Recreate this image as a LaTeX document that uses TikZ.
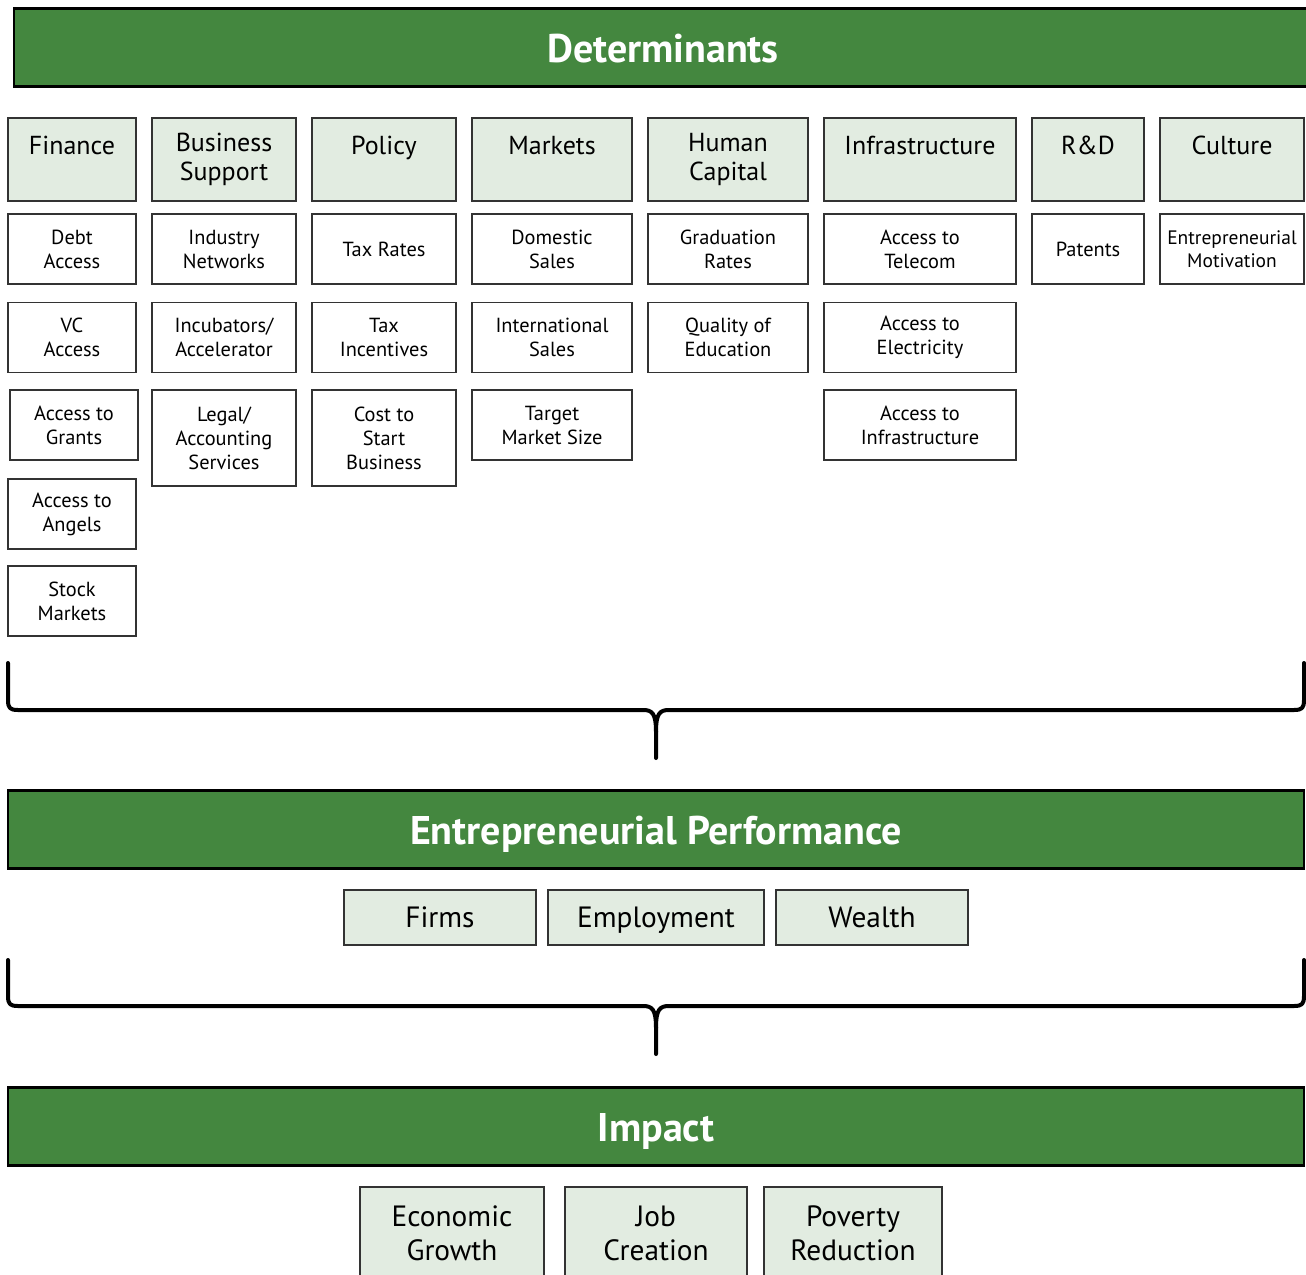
\documentclass[tikz,border=0pt]{standalone}
\usepackage{fontspec}
\setmainfont{PT Sans}
\usepackage{xcolor}
\definecolor{barGreen}{HTML}{44873F}
\definecolor{paleGreen}{HTML}{E2ECE1}
\definecolor{boxLine}{HTML}{333333}

\begin{document}
\begin{tikzpicture}[x=0.75pt,y=-0.75pt,
    bar node/.style={rectangle,draw=black,line width=2.2pt,fill=barGreen,text=white,minimum height=59pt,text height=22pt,text depth=0pt,font=\fontsize{30}{34}\selectfont\bfseries},
    head node/.style={rectangle,draw=boxLine,line width=0.9pt,fill=paleGreen,align=center,minimum height=62.25pt,font=\fontsize{19.5}{21.75}\selectfont},
    item node/.style={rectangle,draw=boxLine,line width=0.9pt,fill=white,align=center,minimum height=52.5pt,font=\fontsize{15.3}{18}\selectfont},
    tall node/.style={item node,minimum height=72pt},
    out node/.style={rectangle,draw=boxLine,line width=0.9pt,fill=paleGreen,align=center,minimum height=41.25pt,font=\fontsize{22}{25.5}\selectfont},
    perf node/.style={out node,text height=20.4pt,text depth=5pt},
    brace/.style={line width=3pt,line cap=round,line join=round}]

    \useasboundingbox (0,0) rectangle (1306,1274);

    % determinants
    \node[bar node, minimum width=973.5pt] (det) at (663,47.5) {Determinants};

    \node[head node, minimum width=96pt]  (fin) at (72,159.5)   {Finance\\~};
    \node[head node, minimum width=108pt] (bus) at (224,159.5)  {Business\\Support};
    \node[head node, minimum width=108pt] (pol) at (384,159.5)  {Policy\\~};
    \node[head node, minimum width=120pt] (mar) at (552,159.5)  {Markets\\~};
    \node[head node, minimum width=120pt] (hum) at (728,159.5)  {Human\\Capital};
    \node[head node, minimum width=144pt] (inf) at (920,159.5)  {Infrastructure\\~};
    \node[head node, minimum width=84pt]  (rnd) at (1088,159.5) {R\&D\\~};
    \node[head node, minimum width=108pt] (cul) at (1232,159.5) {Culture\\~};

    \node[item node, minimum width=96pt]  (fin1) at (72,249)   {Debt\\Access};
    \node[item node, minimum width=108pt] (bus1) at (224,249)  {Industry\\Networks};
    \node[item node, minimum width=108pt] (pol1) at (384,249)  {Tax Rates};
    \node[item node, minimum width=120pt] (mar1) at (552,249)  {Domestic\\Sales};
    \node[item node, minimum width=120pt] (hum1) at (728,249)  {Graduation\\Rates};
    \node[item node, minimum width=144pt] (inf1) at (920,249)  {Access to\\Telecom};
    \node[item node, minimum width=84pt]  (rnd1) at (1088,249) {Patents};
    \node[item node, minimum width=108pt, font=\fontsize{14.6}{17}\selectfont] (cul1) at (1232,249) {Entrepreneurial\\Motivation};

    \node[item node, minimum width=96pt]  (fin2) at (72,337.5)  {VC\\Access};
    \node[item node, minimum width=108pt] (bus2) at (224,337.5) {Incubators/\\Accelerator};
    \node[item node, minimum width=108pt] (pol2) at (384,337.5) {Tax\\Incentives};
    \node[item node, minimum width=120pt] (mar2) at (552,337.5) {International\\Sales};
    \node[item node, minimum width=120pt] (hum2) at (728,337.5) {Quality of\\Education};
    \node[item node, minimum width=144pt] (inf2) at (920,337.5) {Access to\\Electricity};

    \node[item node, minimum width=96pt]  (fin3) at (74,425)    {Access to\\Grants};
    \node[tall node, minimum width=108pt] (bus3) at (224,438)   {Legal/\\Accounting\\Services};
    \node[tall node, minimum width=108pt] (pol3) at (384,438)   {Cost to\\Start\\Business};
    \node[item node, minimum width=120pt] (mar3) at (552,425)   {Target\\Market Size};
    \node[item node, minimum width=144pt] (inf3) at (920,425)   {Access to\\Infrastructure};

    \node[item node, minimum width=96pt]  (fin4) at (72,514)    {Access to\\Angels};
    \node[item node, minimum width=96pt]  (fin5) at (72,601)    {Stock\\Markets};

    % first brace
    \coordinate (b1l) at (8,663);
    \coordinate (b1r) at (1304,663);
    \coordinate (b1m) at (656,758);
    \draw[brace] (b1l) -- (8,700) .. controls (8,708) and (10,710) .. (18,710) -- (643,710)
        .. controls (652,710) and (656,713) .. (656,732) -- (b1m);
    \draw[brace] (b1r) -- (1304,700) .. controls (1304,708) and (1302,710) .. (1294,710) -- (669,710)
        .. controls (660,710) and (656,713) .. (656,732);

    % performance
    \node[bar node, minimum width=972pt] (perf) at (656,829.5) {Entrepreneurial Performance};

    \node[perf node, minimum width=144pt] (firms) at (440,917.5) {Firms};
    \node[perf node, minimum width=162pt] (empl)  at (656,917.5) {Employment};
    \node[perf node, minimum width=144pt] (wlth)  at (872,917.5) {Wealth};

    % second brace
    \coordinate (b2l) at (8,960);
    \coordinate (b2r) at (1304,960);
    \coordinate (b2m) at (656,1054);
    \draw[brace] (b2l) -- (8,996) .. controls (8,1004) and (10,1006) .. (18,1006) -- (643,1006)
        .. controls (652,1006) and (656,1009) .. (656,1028) -- (b2m);
    \draw[brace] (b2r) -- (1304,996) .. controls (1304,1004) and (1302,1006) .. (1294,1006) -- (669,1006)
        .. controls (660,1006) and (656,1009) .. (656,1028);

    % impact
    \node[bar node, minimum width=972pt] (imp) at (656,1126.5) {Impact};

    \node[out node, minimum width=138pt, minimum height=69pt] (econ) at (452,1233) {Economic\\Growth};
    \node[out node, minimum width=136.5pt, minimum height=69pt] (jobs) at (656,1233) {Job\\Creation};
    \node[out node, minimum width=133.5pt, minimum height=69pt] (pov)  at (853,1233) {Poverty\\Reduction};
\end{tikzpicture}
\end{document}
